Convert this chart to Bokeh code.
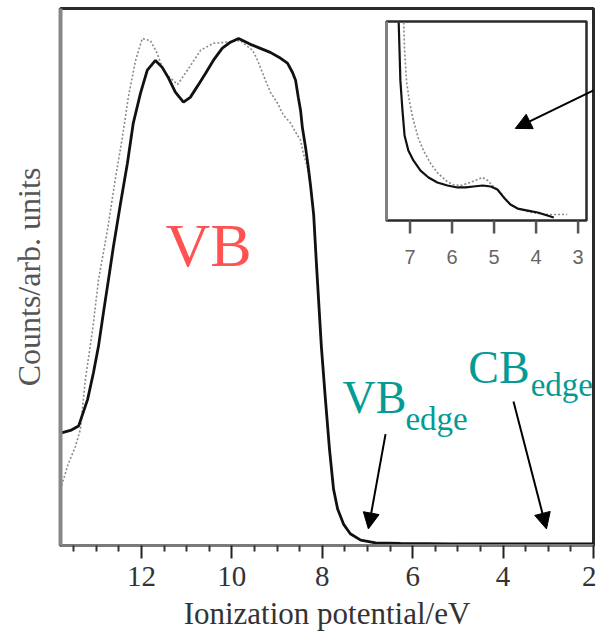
from bokeh.plotting import figure
from bokeh.models import Range1d, FixedTicker, Arrow, NormalHead, Label
from bokeh.core.properties import value
from bokeh.embed import file_html
from bokeh.resources import INLINE

# ---------------- data ----------------
# main spectrum, sample 1 (black solid)
ip_black = [13.79, 13.57, 13.39, 13.19, 13.06, 12.95, 12.84, 12.73, 12.62, 12.46,
            12.31, 12.18, 12.02, 11.87, 11.69, 11.54, 11.40, 11.25, 11.07, 10.92,
            10.76, 10.58, 10.41, 10.21, 10.03, 9.85, 9.59, 9.41, 9.15, 8.92,
            8.77, 8.66, 8.59, 8.53, 8.48, 8.44, 8.37, 8.31, 8.26, 8.19,
            8.13, 8.02, 7.93, 7.84, 7.75, 7.66, 7.53, 7.38, 7.15, 6.82,
            6.27, 5.16, 2.0]
counts_black = [20.7, 21.2, 22.0, 27.0, 32.0, 36.9, 43.2, 49.3, 55.5, 63.7,
                71.1, 78.6, 84.2, 88.5, 90.3, 89.0, 87.0, 84.4, 82.5, 83.4,
                85.5, 87.9, 90.3, 92.6, 93.7, 94.4, 93.3, 92.7, 91.8, 90.7,
                89.8, 88.1, 86.6, 83.4, 81.0, 77.8, 74.1, 70.4, 67.0, 61.5,
                52.5, 36.9, 27.0, 17.7, 10.2, 6.5, 3.7, 1.9, 0.7, 0.2,
                0.1, 0.0, 0.0]

# main spectrum, sample 2 (grey dotted)
ip_grey = [13.79, 13.62, 13.46, 13.35, 13.24, 13.08, 12.95, 12.75, 12.58, 12.42,
           12.29, 12.13, 11.98, 11.80, 11.65, 11.54, 11.42, 11.20, 10.98, 10.69,
           10.41, 10.14, 9.81, 9.54, 9.43, 9.30, 9.15, 8.99, 8.86, 8.70,
           8.59, 8.48, 8.42, 8.33, 8.26, 8.19, 8.13, 8.02, 7.93, 7.84,
           7.75, 7.66, 7.53, 7.38, 7.15, 6.82, 6.27]
counts_grey = [10.2, 14.9, 18.2, 21.4, 30.7, 40.0, 49.3, 58.7, 68.0, 76.0,
               83.4, 90.3, 94.4, 94.0, 91.6, 89.0, 87.5, 85.8, 88.5, 92.2,
               93.5, 93.7, 94.0, 92.2, 90.3, 87.5, 84.4, 82.3, 80.1, 78.6,
               76.9, 75.4, 73.0, 70.4, 67.0, 61.5, 52.5, 36.9, 27.0, 17.7,
               10.2, 6.5, 3.7, 1.9, 0.7, 0.2, 0.0]

# inset (zoom of the gap region)
inset_ip_black = [7.27, 7.25, 7.23, 7.18, 7.13, 7.04, 6.92, 6.75, 6.56, 6.35,
                  6.11, 5.87, 5.68, 5.49, 5.27, 5.08, 4.92, 4.77, 4.61, 4.44,
                  4.20, 3.96, 3.73, 3.58]
inset_counts_black = [99.5, 85.4, 70.4, 55.3, 42.7, 35.2, 30.2, 25.1, 21.6, 19.1,
                      17.6, 16.6, 16.6, 17.1, 17.6, 17.1, 15.6, 11.6, 8.0, 6.0,
                      5.0, 4.0, 2.5, 1.5]
inset_ip_grey = [7.15, 7.13, 7.08, 7.01, 6.92, 6.80, 6.68, 6.51, 6.35, 6.15,
                 5.99, 5.80, 5.63, 5.46, 5.27, 5.15, 5.04, 4.92, 4.77, 4.61,
                 4.44, 4.20, 3.96, 3.73, 3.49, 3.26]
inset_counts_grey = [99.5, 85.4, 69.3, 59.3, 50.3, 41.2, 35.2, 28.6, 24.1, 20.1,
                     18.1, 17.6, 18.6, 20.1, 21.6, 20.1, 17.6, 15.6, 12.1, 8.0,
                     6.0, 4.5, 3.5, 3.0, 3.0, 3.0]

# ticks
x_ticks = [12, 10, 8, 6, 4, 2]
x_minor_ticks = [13.5, 13, 12.5, 11.5, 11, 10.5, 9.5, 9, 8.5, 7.5, 7, 6.5,
                 5.5, 5, 4.5, 3.5, 3, 2.5]
inset_ticks = [7, 6, 5, 4, 3]
inset_tick_labels = ["7", "6", "5", "4", "3"]

# ---------------- layout geometry ----------------
W, H = 596, 639
fx0, fx1, fy0, fy1 = 60, 593, 8, 545          # main frame in pixels
ix0, ix1, iy0, iy1 = 386, 586, 21, 220        # inset frame in pixels
in_x_lo, in_x_hi = 7.56, 2.80                 # inset axis limits (eV)
in_y_lo, in_y_hi = 0.0, 100.0

sx = (in_x_lo - in_x_hi) / (ix1 - ix0)
sy = (in_y_hi - in_y_lo) / (iy1 - iy0)
inset_xr = Range1d(start=in_x_lo + (ix0 - fx0) * sx, end=in_x_hi - (fx1 - ix1) * sx)
inset_yr = Range1d(start=in_y_lo - (fy1 - iy1) * sy, end=in_y_hi + (iy0 - fy0) * sy)

SERIF = "Liberation Serif"

p = figure(width=W, height=H, output_backend="svg", toolbar_location=None,
           x_range=Range1d(13.79, 2.0), y_range=Range1d(-0.3, 100),
           min_border_left=fx0, min_border_right=W - fx1,
           min_border_top=fy0, min_border_bottom=H - fy1)
p.extra_x_ranges = {"inset_x": inset_xr}
p.extra_y_ranges = {"inset_y": inset_yr}
p.background_fill_color = "white"
p.border_fill_color = "white"
p.xgrid.visible = False
p.ygrid.visible = False
p.outline_line_color = "#2a2a2a"
p.outline_line_width = 3

# x axis
ax = p.xaxis[0]
ax.ticker = FixedTicker(ticks=x_ticks, minor_ticks=x_minor_ticks)
ax.axis_line_color = "#7a7a7a"
ax.axis_line_width = 3
ax.major_tick_in = 0
ax.major_tick_out = 13
ax.minor_tick_in = 0
ax.minor_tick_out = 6
ax.major_tick_line_color = "#222222"
ax.major_tick_line_width = 2
ax.minor_tick_line_color = "#333333"
ax.minor_tick_line_width = 2
ax.major_label_text_font = SERIF
ax.major_label_text_font_size = "29px"
ax.major_label_text_color = "#333333"
ax.major_label_standoff = 8
ax.axis_label = "Ionization potential/eV"
ax.axis_label_text_font = SERIF
ax.axis_label_text_font_size = "31px"
ax.axis_label_text_font_style = "normal"
ax.axis_label_text_color = "#333333"
ax.axis_label_standoff = 7

# y axis
ay = p.yaxis[0]
ay.ticker = FixedTicker(ticks=[])
ay.axis_line_color = "#888888"
ay.axis_line_width = 4
ay.major_tick_line_color = None
ay.minor_tick_line_color = None
ay.axis_label = "Counts/arb. units"
ay.axis_label_text_font = SERIF
ay.axis_label_text_font_size = "32px"
ay.axis_label_text_font_style = "normal"
ay.axis_label_text_color = "#555555"
ay.axis_label_standoff = 14

# main curves
p.line(ip_grey, counts_grey, line_color="#8a8a8a", line_width=1.6, line_dash="2 2")
p.line(ip_black, counts_black, line_color="#111111", line_width=2.8)

# inset frame
p.quad(left=[in_x_lo], right=[in_x_hi], bottom=[in_y_lo], top=[in_y_hi],
       fill_color="white", line_color="#2a2a2a", line_width=2.5,
       x_range_name="inset_x", y_range_name="inset_y")
p.segment(x0=[in_x_lo], y0=[in_y_lo], x1=[in_x_lo], y1=[in_y_hi],
          line_color="#808080", line_width=3,
          x_range_name="inset_x", y_range_name="inset_y")
# inset curves
p.line(inset_ip_grey, inset_counts_grey, line_color="#8a8a8a", line_width=1.6,
       line_dash="2 2", x_range_name="inset_x", y_range_name="inset_y")
p.line(inset_ip_black, inset_counts_black, line_color="#111111", line_width=2.2,
       x_range_name="inset_x", y_range_name="inset_y")
# inset ticks and labels
p.segment(x0=inset_ticks, y0=[0] * len(inset_ticks), x1=inset_ticks,
          y1=[-6.5] * len(inset_ticks), line_color="#555555", line_width=2.5,
          x_range_name="inset_x", y_range_name="inset_y")
p.text(x=inset_ticks, y=[-18.5] * len(inset_ticks), text=inset_tick_labels,
       text_align="center", text_baseline="middle",
       text_font=value("Liberation Sans"), text_font_size="20px", text_color="#666666",
       x_range_name="inset_x", y_range_name="inset_y")

# annotations
TEAL = "#049a95"
p.add_layout(Label(x=11.47, y=55.9, text="VB", text_font=SERIF, text_font_size="62px",
                   text_color="#ff5252", text_align="left", text_baseline="alphabetic"))
p.add_layout(Label(x=7.55, y=27.4, text="VB", text_font=SERIF, text_font_size="46px",
                   text_color=TEAL, text_align="left", text_baseline="alphabetic"))
p.add_layout(Label(x=6.16, y=23.3, text="edge", text_font=SERIF, text_font_size="33px",
                   text_color=TEAL, text_align="left", text_baseline="alphabetic"))
p.add_layout(Label(x=4.77, y=32.9, text="CB", text_font=SERIF, text_font_size="46px",
                   text_color=TEAL, text_align="left", text_baseline="alphabetic"))
p.add_layout(Label(x=3.39, y=29.6, text="edge", text_font=SERIF, text_font_size="33px",
                   text_color=TEAL, text_align="left", text_baseline="alphabetic"))

def head():
    return NormalHead(size=16, fill_color="black", line_color="black", line_width=1)

p.add_layout(Arrow(end=head(), x_start=6.60, y_start=20.5, x_end=6.98, y_end=2.8,
                   line_color="black", line_width=2))
p.add_layout(Arrow(end=head(), x_start=3.77, y_start=26.6, x_end=3.04, y_end=2.8,
                   line_color="black", line_width=2))
p.add_layout(Arrow(end=head(), x_start=2.0, y_start=84.7, x_end=3.73, y_end=77.6,
                   line_color="black", line_width=2))

open("out.html", "w").write(file_html(p, INLINE))
